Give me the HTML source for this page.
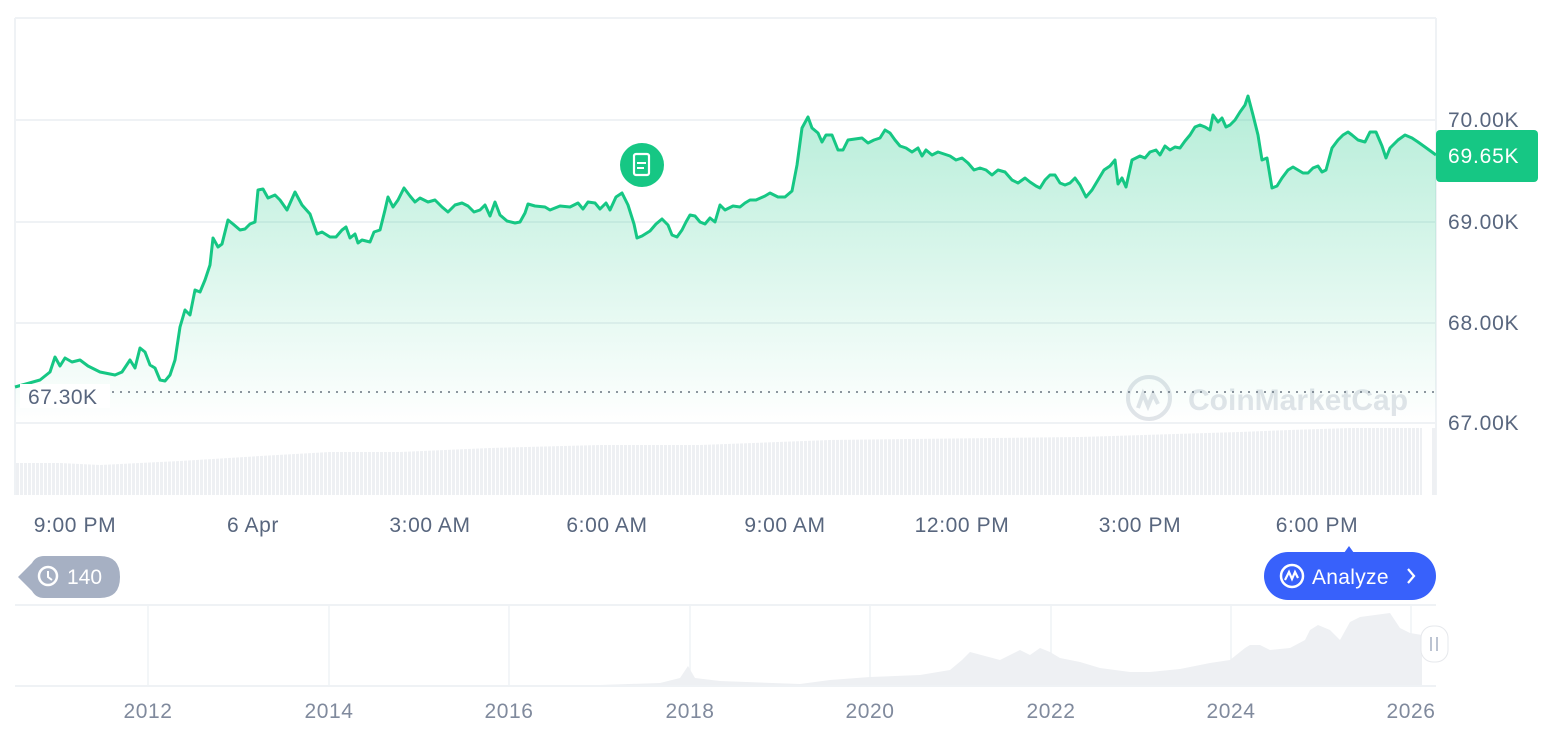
<!DOCTYPE html>
<html><head><meta charset="utf-8"><style>
body{margin:0;background:#fff;width:1566px;height:732px;overflow:hidden;font-family:"Liberation Sans",sans-serif}
svg{display:block}
</style></head><body>
<svg width="1566" height="732" viewBox="0 0 1566 732" xmlns="http://www.w3.org/2000/svg" font-family="Liberation Sans, sans-serif">
<defs>
<linearGradient id="g" x1="0" y1="0" x2="0" y2="1">
<stop offset="0" stop-color="#16c784" stop-opacity="0.32"/>
<stop offset="1" stop-color="#16c784" stop-opacity="0"/>
</linearGradient>
<pattern id="vb" width="4" height="10" patternUnits="userSpaceOnUse"><rect width="3" height="10" fill="#eef0f3"/></pattern>
</defs>
<line x1="15" y1="18" x2="1436" y2="18" stroke="#eff2f5" stroke-width="2"/>
<line x1="15" y1="18" x2="15" y2="495" stroke="#eff2f5" stroke-width="2"/>
<line x1="1436" y1="18" x2="1436" y2="495" stroke="#eff2f5" stroke-width="2"/>
<g stroke="#eff2f5" stroke-width="2">
<line x1="15" y1="120" x2="1436" y2="120"/><line x1="15" y1="222" x2="1436" y2="222"/>
<line x1="15" y1="323" x2="1436" y2="323"/><line x1="15" y1="423" x2="1436" y2="423"/>
</g>
<polygon fill="url(#vb)" points="15,495 15,463 60,463 100,465 180,461 260,456 330,452 400,452 490,448 600,445 700,445 830,440 1080,437 1240,432 1290,430 1350,428 1422,428 1422,495"/>
<rect x="1432" y="428" width="4" height="67" fill="#eef0f3"/>
<g opacity="0.55">
<circle cx="1149" cy="398" r="21" fill="none" stroke="#c9ced8" stroke-width="4"/>
<path d="M1138,408 l5,-14 l5,12 l5,-12 l5,10" fill="none" stroke="#c9ced8" stroke-width="4"/>
<text x="1188" y="410" font-size="30" font-weight="bold" fill="#c9ced8">CoinMarketCap</text>
</g>
<line x1="112" y1="392" x2="1436" y2="392" stroke="#6b7280" stroke-width="1.5" stroke-dasharray="2,6"/>
<polyline fill="url(#g)" stroke="none" points="15,423 15,387 40,380 50,372 55,357 60,366 65,358 72,362 80,360 88,366 100,372 115,375 122,372 130,360 135,368 140,348 145,352 150,365 155,368 160,380 165,381 170,375 175,360 180,327 185,310 190,315 195,290 200,292 205,280 210,265 213,238 218,247 222,244 228,220 233,224 240,230 245,229 250,224 255,222 258,190 263,189 268,198 275,195 280,200 287,210 295,192 302,205 310,214 317,234 322,232 330,237 336,237 342,230 346,227 350,238 355,234 358,243 362,240 370,242 374,232 380,230 385,210 388,197 393,207 398,200 404,188 410,196 415,202 420,198 428,202 435,200 442,207 448,212 455,205 462,203 468,206 474,212 480,210 485,205 490,216 495,202 500,215 507,221 515,223 520,222 525,213 528,204 535,206 545,207 550,210 560,206 570,207 578,203 583,209 588,202 595,203 600,209 606,203 610,210 616,197 622,193 628,205 634,224 637,238 642,236 650,231 656,224 662,219 668,225 672,235 677,237 682,230 686,222 690,215 695,216 700,222 705,224 710,218 715,222 720,205 725,210 733,206 740,207 745,203 750,200 756,200 765,196 770,193 778,197 785,197 792,191 797,165 802,128 808,117 812,128 818,133 822,142 826,135 832,135 838,150 843,150 848,140 855,139 862,138 868,143 874,140 880,138 885,130 890,133 895,140 900,146 906,148 912,152 918,148 922,156 926,150 932,155 938,152 944,154 950,156 956,160 962,158 968,163 974,170 980,168 986,170 992,175 998,170 1005,172 1012,180 1018,183 1025,178 1030,182 1036,186 1040,188 1045,180 1050,175 1055,175 1060,183 1065,185 1070,183 1075,178 1080,185 1086,197 1092,190 1098,180 1104,170 1110,166 1115,160 1118,184 1122,178 1126,187 1132,160 1136,158 1140,156 1145,158 1150,152 1156,150 1160,155 1165,146 1170,150 1175,147 1180,148 1185,141 1190,135 1195,127 1200,125 1205,127 1210,130 1213,115 1218,122 1222,118 1226,127 1230,125 1235,120 1240,112 1245,105 1248,96 1253,115 1258,135 1262,160 1267,158 1272,188 1277,186 1282,178 1288,170 1293,167 1298,170 1303,173 1308,173 1313,168 1318,166 1322,172 1326,170 1332,148 1338,140 1343,135 1348,132 1352,135 1358,140 1365,142 1370,132 1376,132 1382,146 1386,158 1390,148 1398,140 1405,135 1412,138 1418,142 1425,147 1436,155 1436,423"/>
<polyline fill="none" stroke="#16c784" stroke-width="3" stroke-linejoin="round" points="15,387 40,380 50,372 55,357 60,366 65,358 72,362 80,360 88,366 100,372 115,375 122,372 130,360 135,368 140,348 145,352 150,365 155,368 160,380 165,381 170,375 175,360 180,327 185,310 190,315 195,290 200,292 205,280 210,265 213,238 218,247 222,244 228,220 233,224 240,230 245,229 250,224 255,222 258,190 263,189 268,198 275,195 280,200 287,210 295,192 302,205 310,214 317,234 322,232 330,237 336,237 342,230 346,227 350,238 355,234 358,243 362,240 370,242 374,232 380,230 385,210 388,197 393,207 398,200 404,188 410,196 415,202 420,198 428,202 435,200 442,207 448,212 455,205 462,203 468,206 474,212 480,210 485,205 490,216 495,202 500,215 507,221 515,223 520,222 525,213 528,204 535,206 545,207 550,210 560,206 570,207 578,203 583,209 588,202 595,203 600,209 606,203 610,210 616,197 622,193 628,205 634,224 637,238 642,236 650,231 656,224 662,219 668,225 672,235 677,237 682,230 686,222 690,215 695,216 700,222 705,224 710,218 715,222 720,205 725,210 733,206 740,207 745,203 750,200 756,200 765,196 770,193 778,197 785,197 792,191 797,165 802,128 808,117 812,128 818,133 822,142 826,135 832,135 838,150 843,150 848,140 855,139 862,138 868,143 874,140 880,138 885,130 890,133 895,140 900,146 906,148 912,152 918,148 922,156 926,150 932,155 938,152 944,154 950,156 956,160 962,158 968,163 974,170 980,168 986,170 992,175 998,170 1005,172 1012,180 1018,183 1025,178 1030,182 1036,186 1040,188 1045,180 1050,175 1055,175 1060,183 1065,185 1070,183 1075,178 1080,185 1086,197 1092,190 1098,180 1104,170 1110,166 1115,160 1118,184 1122,178 1126,187 1132,160 1136,158 1140,156 1145,158 1150,152 1156,150 1160,155 1165,146 1170,150 1175,147 1180,148 1185,141 1190,135 1195,127 1200,125 1205,127 1210,130 1213,115 1218,122 1222,118 1226,127 1230,125 1235,120 1240,112 1245,105 1248,96 1253,115 1258,135 1262,160 1267,158 1272,188 1277,186 1282,178 1288,170 1293,167 1298,170 1303,173 1308,173 1313,168 1318,166 1322,172 1326,170 1332,148 1338,140 1343,135 1348,132 1352,135 1358,140 1365,142 1370,132 1376,132 1382,146 1386,158 1390,148 1398,140 1405,135 1412,138 1418,142 1425,147 1436,155"/>
<rect x="20" y="384" width="90" height="24" fill="#fff"/>
<text x="28" y="404" font-size="21" letter-spacing="0.5" fill="#58667e">67.30K</text>
<circle cx="642" cy="165" r="22" fill="#16c784"/>
<rect x="634" y="154" width="15" height="21" rx="2" fill="none" stroke="#fff" stroke-width="2.2"/>
<line x1="637" y1="163" x2="646" y2="163" stroke="#fff" stroke-width="2"/><line x1="637" y1="168" x2="644" y2="168" stroke="#fff" stroke-width="2"/>
<g font-size="21" letter-spacing="0.8" fill="#58667e">
<text x="1448" y="127">70.00K</text><text x="1448" y="229">69.00K</text>
<text x="1448" y="330">68.00K</text><text x="1448" y="430">67.00K</text>
</g>
<rect x="1436" y="130" width="102" height="52" rx="4" fill="#16c784"/>
<text x="1448" y="163" font-size="21" letter-spacing="0.8" fill="#fff">69.65K</text>
<g font-size="21" letter-spacing="0.6" fill="#58667e" text-anchor="middle">
<text x="75" y="532">9:00 PM</text><text x="253" y="532">6 Apr</text><text x="430" y="532">3:00 AM</text>
<text x="607" y="532">6:00 AM</text><text x="785" y="532">9:00 AM</text><text x="962" y="532">12:00 PM</text>
<text x="1140" y="532">3:00 PM</text><text x="1317" y="532">6:00 PM</text>
</g>
<path d="M18,577 L32,563 Q36,556 44,556 L100,556 Q120,556 120,577 Q120,598 100,598 L44,598 Q36,598 32,591 Z" fill="#a6b0c3"/>
<circle cx="48" cy="576" r="9" fill="none" stroke="#fff" stroke-width="2.5"/>
<path d="M48,571 v6 l4,3" fill="none" stroke="#fff" stroke-width="2"/>
<text x="67" y="584" font-size="21" fill="#fff">140</text>
<path d="M1344,553 L1349,546 L1354,553 Z" fill="#3861fb"/>
<rect x="1264" y="552" width="172" height="48" rx="24" fill="#3861fb"/>
<circle cx="1292" cy="576" r="11" fill="none" stroke="#fff" stroke-width="2.5"/>
<path d="M1285,580 l4,-8 l3,7 l3,-7 l3,6" fill="none" stroke="#fff" stroke-width="2.2"/>
<text x="1312" y="584" font-size="21" letter-spacing="0.3" fill="#fff">Analyze</text>
<path d="M1408,569 l6,7 l-6,7" fill="none" stroke="#fff" stroke-width="2.2"/>
<line x1="15" y1="605" x2="1436" y2="605" stroke="#eff2f5" stroke-width="2"/>
<g stroke="#eff2f5" stroke-width="1.5">
<line x1="148" y1="605" x2="148" y2="686"/><line x1="329" y1="605" x2="329" y2="686"/><line x1="509" y1="605" x2="509" y2="686"/>
<line x1="690" y1="605" x2="690" y2="686"/><line x1="870" y1="605" x2="870" y2="686"/><line x1="1051" y1="605" x2="1051" y2="686"/>
<line x1="1231" y1="605" x2="1231" y2="686"/><line x1="1411" y1="605" x2="1411" y2="686"/>
</g>
<polygon fill="#eef0f3" points="15,686 15,685 600,685 660,683 680,678 688,666 695,678 720,681 800,684 830,680 870,677 920,675 950,670 962,660 970,652 985,656 1000,660 1020,650 1030,655 1040,648 1050,652 1060,658 1080,662 1100,668 1130,672 1150,672 1180,669 1210,663 1230,660 1245,648 1250,645 1260,645 1270,650 1290,648 1305,640 1310,630 1318,625 1330,630 1340,640 1350,622 1360,617 1375,615 1390,613 1400,628 1410,633 1422,635 1422,686"/>
<line x1="15" y1="686" x2="1436" y2="686" stroke="#eff2f5" stroke-width="2"/>
<rect x="1421" y="626" width="27" height="36" rx="12" fill="#fff" stroke="#e6e8ec" stroke-width="1"/>
<line x1="1431" y1="637" x2="1431" y2="651" stroke="#a6b0c3" stroke-width="1.5"/><line x1="1437" y1="637" x2="1437" y2="651" stroke="#a6b0c3" stroke-width="1.5"/>
<g font-size="21" letter-spacing="0.6" fill="#808a9d" text-anchor="middle">
<text x="148" y="718">2012</text><text x="329" y="718">2014</text><text x="509" y="718">2016</text><text x="690" y="718">2018</text>
<text x="870" y="718">2020</text><text x="1051" y="718">2022</text><text x="1231" y="718">2024</text><text x="1411" y="718">2026</text>
</g>
</svg>
</body></html>
